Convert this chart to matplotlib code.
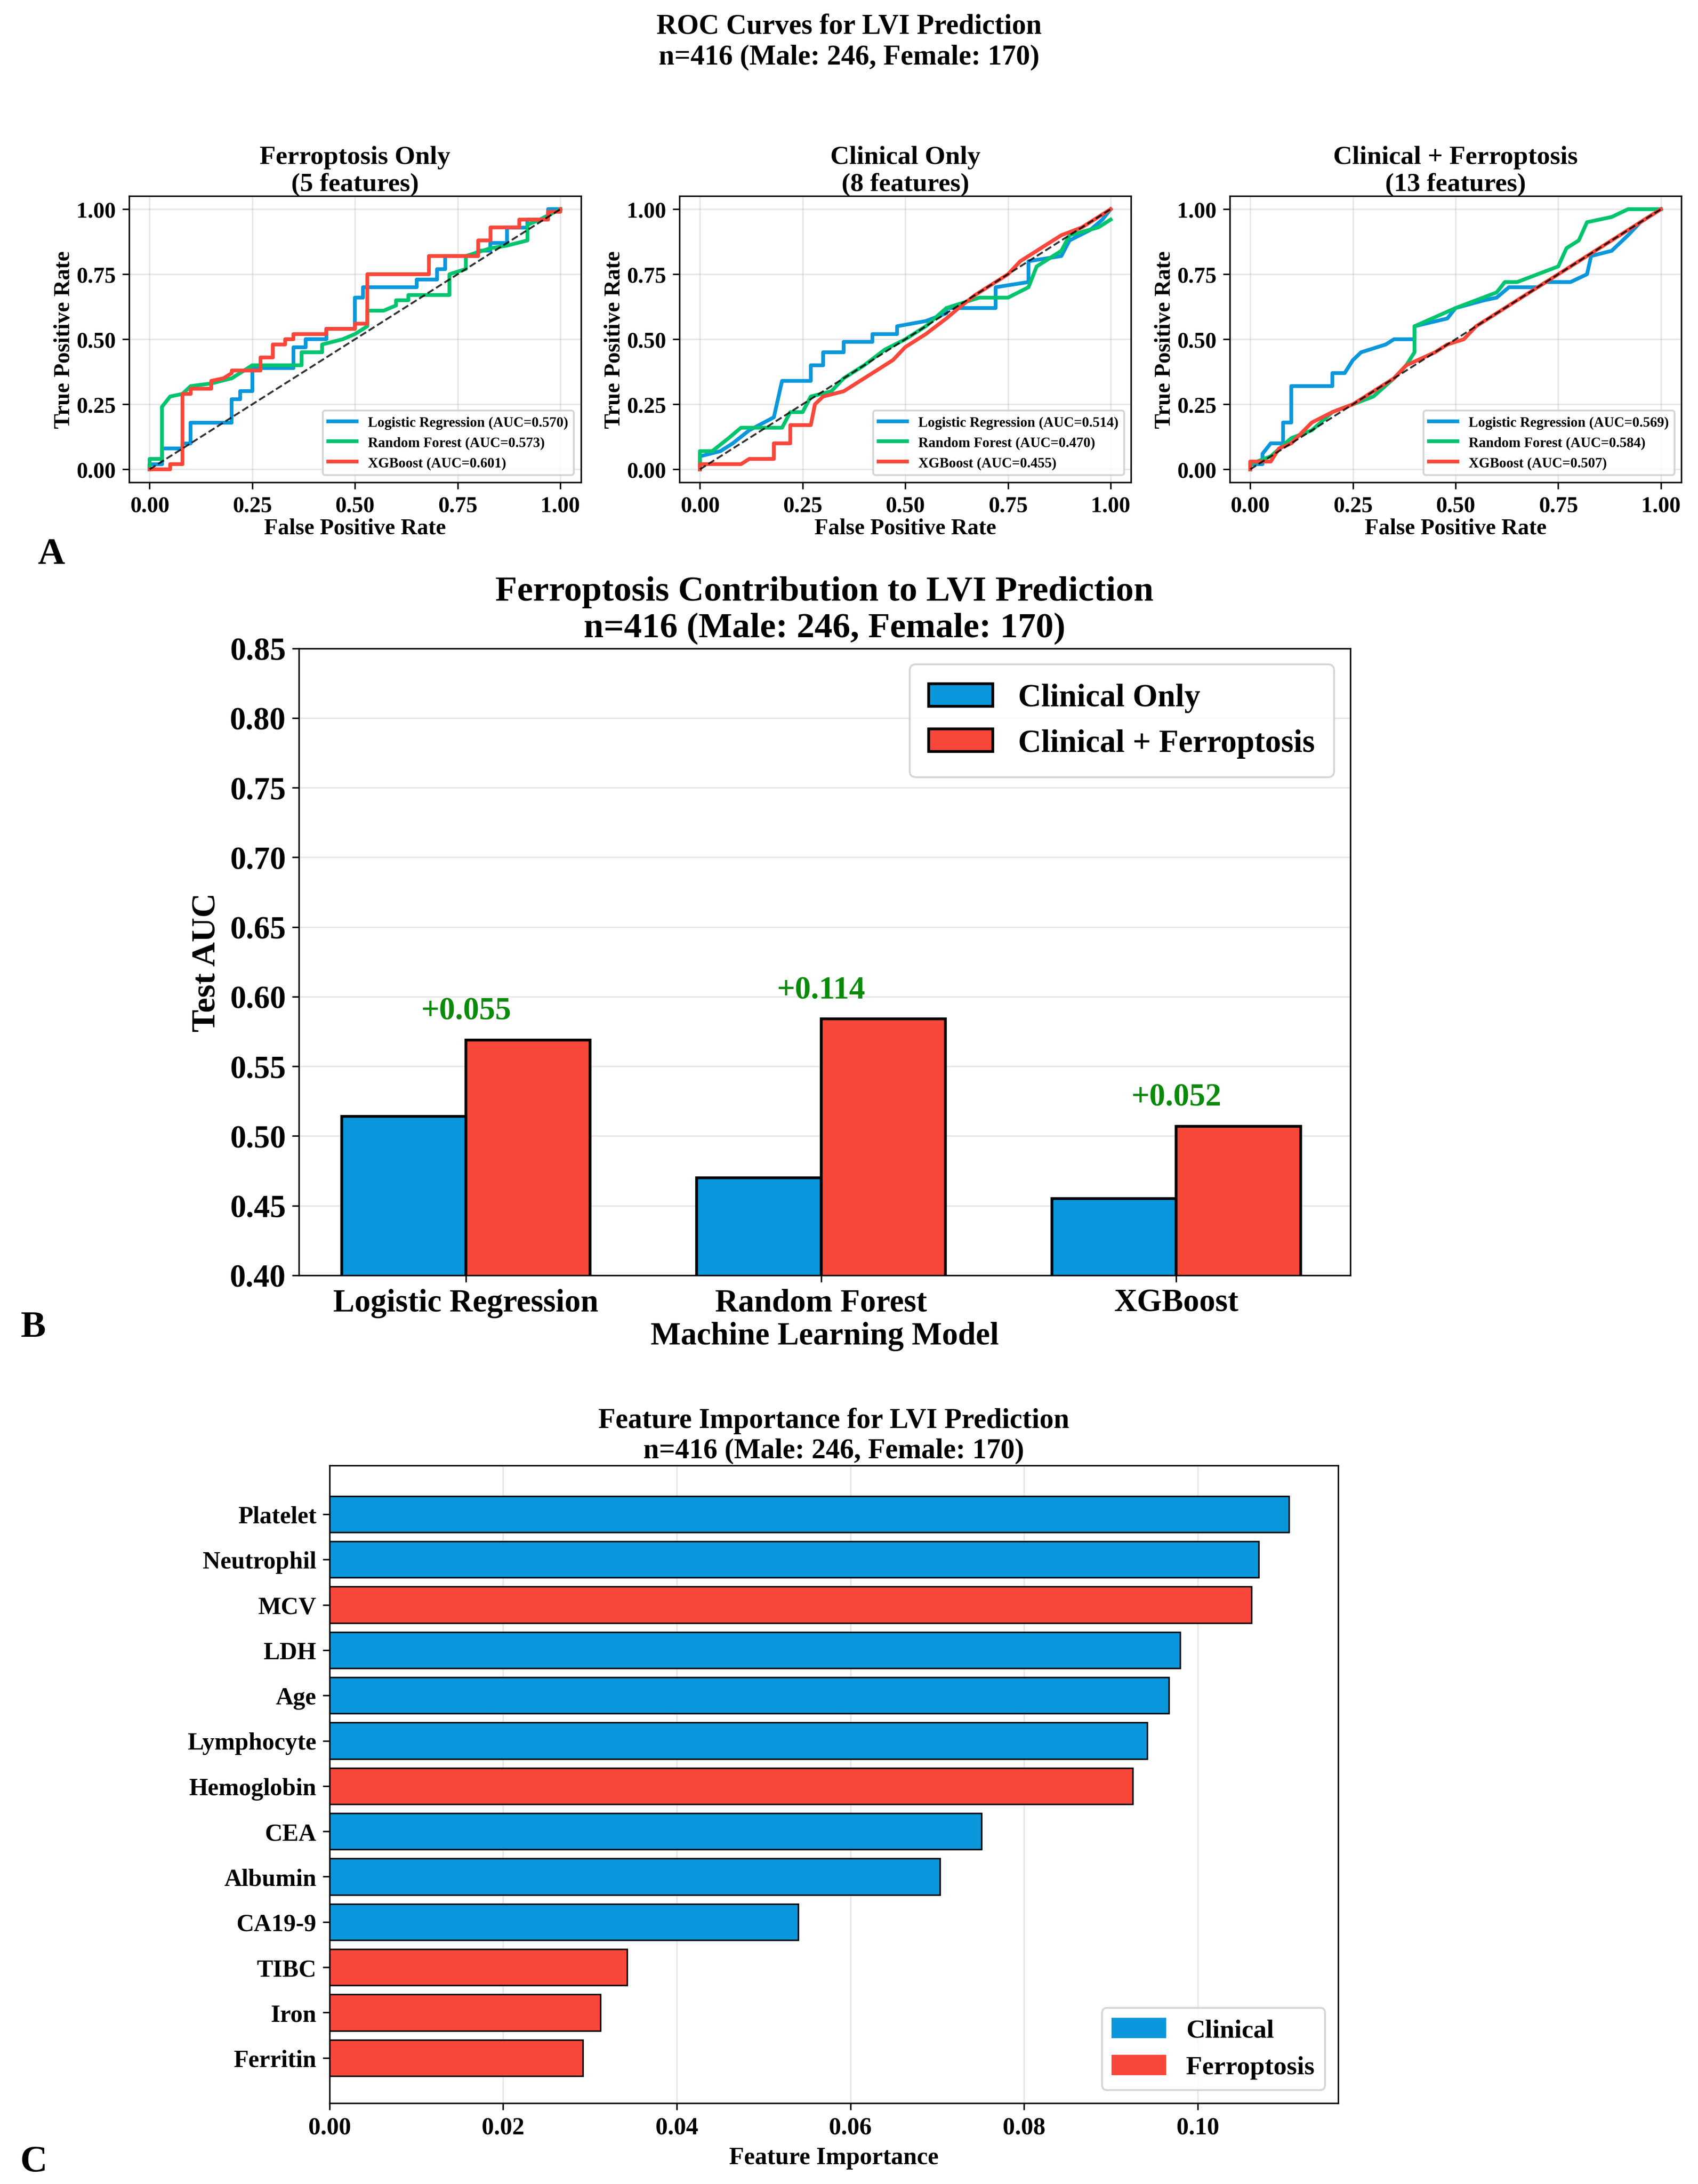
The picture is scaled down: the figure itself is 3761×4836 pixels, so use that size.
import matplotlib
matplotlib.use("Agg")
import matplotlib.pyplot as plt
import numpy as np

plt.rcParams['font.family'] = ['Liberation Serif', 'DejaVu Serif']
plt.rcParams['font.weight'] = 'bold'
plt.rcParams['axes.labelweight'] = 'bold'
plt.rcParams['axes.titleweight'] = 'bold'

BLUE = "#0A97DB"
RED = "#F9473A"
GREEN = "#00C46E"

models = ["Logistic Regression", "Random Forest", "XGBoost"]
model_colors = [BLUE, GREEN, RED]

# ROC panels: (title, auc list, curves)
roc_titles = ["Ferroptosis Only\n(5 features)", "Clinical Only\n(8 features)", "Clinical + Ferroptosis\n(13 features)"]
auc_ferro = [0.570, 0.573, 0.601]
auc_clin = [0.514, 0.470, 0.455]
auc_comb = [0.569, 0.584, 0.507]

ferro_lr = [(0,0),(0,0.02),(0.03,0.02),(0.03,0.08),(0.08,0.08),(0.08,0.10),(0.1,0.10),(0.1,0.18),(0.2,0.18),(0.2,0.27),(0.22,0.27),(0.22,0.30),(0.25,0.30),(0.25,0.39),(0.35,0.39),(0.35,0.47),(0.38,0.47),(0.38,0.50),(0.43,0.50),(0.43,0.54),(0.5,0.54),(0.5,0.66),(0.52,0.66),(0.52,0.70),(0.65,0.70),(0.65,0.73),(0.7,0.73),(0.7,0.77),(0.72,0.77),(0.72,0.82),(0.8,0.82),(0.8,0.84),(0.83,0.84),(0.83,0.87),(0.87,0.87),(0.87,0.93),(0.92,0.93),(0.92,0.96),(0.97,0.96),(0.97,1.0),(1,1)]
ferro_rf = [(0,0),(0,0.04),(0.03,0.04),(0.03,0.24),(0.05,0.28),(0.08,0.29),(0.1,0.32),(0.15,0.33),(0.2,0.35),(0.22,0.37),(0.25,0.40),(0.37,0.40),(0.37,0.45),(0.42,0.45),(0.42,0.48),(0.47,0.50),(0.5,0.52),(0.53,0.55),(0.53,0.61),(0.57,0.61),(0.6,0.63),(0.6,0.65),(0.63,0.65),(0.63,0.67),(0.73,0.67),(0.73,0.75),(0.77,0.77),(0.77,0.82),(0.83,0.85),(0.87,0.86),(0.92,0.88),(0.92,0.94),(0.95,0.96),(1,1)]
ferro_xgb = [(0,0),(0.05,0),(0.05,0.02),(0.08,0.02),(0.08,0.29),(0.1,0.29),(0.1,0.31),(0.15,0.31),(0.15,0.34),(0.18,0.35),(0.2,0.37),(0.2,0.38),(0.27,0.38),(0.27,0.43),(0.3,0.43),(0.3,0.48),(0.33,0.48),(0.33,0.50),(0.35,0.50),(0.35,0.52),(0.43,0.52),(0.43,0.54),(0.5,0.54),(0.5,0.56),(0.53,0.56),(0.53,0.75),(0.68,0.75),(0.68,0.82),(0.8,0.82),(0.8,0.88),(0.83,0.88),(0.83,0.93),(0.9,0.93),(0.9,0.96),(0.97,0.96),(0.97,0.99),(1,0.99),(1,1)]

clin_lr = [(0,0),(0,0.05),(0.05,0.07),(0.08,0.1),(0.12,0.15),(0.18,0.2),(0.2,0.34),(0.27,0.34),(0.27,0.40),(0.3,0.40),(0.3,0.45),(0.35,0.45),(0.35,0.49),(0.42,0.49),(0.42,0.52),(0.48,0.52),(0.48,0.55),(0.55,0.57),(0.6,0.6),(0.6,0.62),(0.72,0.62),(0.72,0.70),(0.8,0.72),(0.8,0.80),(0.88,0.82),(0.9,0.88),(0.95,0.92),(0.98,0.96),(1,1)]
clin_rf = [(0,0),(0,0.07),(0.03,0.07),(0.07,0.12),(0.1,0.16),(0.2,0.16),(0.22,0.22),(0.25,0.22),(0.27,0.28),(0.32,0.30),(0.35,0.35),(0.4,0.40),(0.45,0.46),(0.5,0.50),(0.55,0.55),(0.6,0.62),(0.68,0.66),(0.75,0.66),(0.8,0.70),(0.82,0.78),(0.88,0.84),(0.9,0.90),(0.97,0.93),(1,0.96)]
clin_xgb = [(0,0),(0,0.02),(0.1,0.02),(0.12,0.04),(0.18,0.04),(0.18,0.10),(0.22,0.10),(0.22,0.17),(0.27,0.17),(0.28,0.25),(0.3,0.28),(0.35,0.30),(0.4,0.35),(0.43,0.38),(0.47,0.42),(0.5,0.47),(0.55,0.52),(0.6,0.58),(0.63,0.62),(0.67,0.67),(0.7,0.70),(0.75,0.75),(0.78,0.80),(0.83,0.85),(0.88,0.90),(0.93,0.93),(0.97,0.97),(1,1)]

comb_lr = [(0,0),(0,0.02),(0.03,0.02),(0.03,0.06),(0.05,0.10),(0.08,0.10),(0.08,0.18),(0.1,0.18),(0.1,0.32),(0.2,0.32),(0.2,0.37),(0.23,0.37),(0.25,0.42),(0.27,0.45),(0.33,0.48),(0.35,0.50),(0.4,0.50),(0.4,0.55),(0.48,0.58),(0.5,0.62),(0.57,0.65),(0.6,0.66),(0.63,0.70),(0.7,0.70),(0.72,0.72),(0.78,0.72),(0.82,0.75),(0.83,0.82),(0.88,0.84),(0.92,0.90),(0.95,0.95),(1,1)]
comb_rf = [(0,0),(0,0.02),(0.05,0.05),(0.1,0.12),(0.15,0.15),(0.2,0.22),(0.25,0.25),(0.3,0.28),(0.35,0.35),(0.38,0.40),(0.4,0.45),(0.4,0.55),(0.5,0.62),(0.55,0.65),(0.6,0.68),(0.62,0.72),(0.65,0.72),(0.7,0.75),(0.75,0.78),(0.77,0.85),(0.8,0.88),(0.82,0.95),(0.88,0.97),(0.92,1.0),(1,1)]
comb_xgb = [(0,0),(0,0.03),(0.05,0.03),(0.07,0.08),(0.1,0.10),(0.15,0.18),(0.2,0.22),(0.25,0.25),(0.3,0.30),(0.35,0.35),(0.38,0.40),(0.45,0.45),(0.48,0.48),(0.52,0.50),(0.55,0.55),(0.6,0.60),(0.65,0.65),(0.7,0.70),(0.75,0.75),(0.8,0.80),(0.85,0.85),(0.92,0.92),(0.95,0.95),(1,1)]

roc_data = [
    ([ferro_lr, ferro_rf, ferro_xgb], auc_ferro),
    ([clin_lr, clin_rf, clin_xgb], auc_clin),
    ([comb_lr, comb_rf, comb_xgb], auc_comb),
]

# bar chart data
auc_clinical_only = [0.514, 0.470, 0.455]
auc_clinical_ferro = [0.569, 0.584, 0.507]

# feature importance
features = ["Platelet", "Neutrophil", "MCV", "LDH", "Age", "Lymphocyte", "Hemoglobin",
            "CEA", "Albumin", "CA19-9", "TIBC", "Iron", "Ferritin"]
importance = [0.1105, 0.1070, 0.1062, 0.0980, 0.0967, 0.0942, 0.0925,
              0.0751, 0.0703, 0.0540, 0.0343, 0.0312, 0.0292]
feat_group = ["Clinical", "Clinical", "Ferroptosis", "Clinical", "Clinical", "Clinical", "Ferroptosis",
              "Clinical", "Clinical", "Clinical", "Ferroptosis", "Ferroptosis", "Ferroptosis"]

fig = plt.figure(figsize=(12.54, 16.123), dpi=300)
fig.text(0.5, 0.9935, "ROC Curves for LVI Prediction\nn=416 (Male: 246, Female: 170)",
         ha="center", va="top", fontsize=15, fontweight="bold")

lefts = [0.076, 0.400, 0.724]
for i, (curves, aucs) in enumerate(roc_data):
    ax = fig.add_axes([lefts[i], 0.779, 0.266, 0.131])
    for pts, auc, name, col in zip(curves, aucs, models, model_colors):
        x, y = zip(*pts)
        ax.plot(x, y, color=col, lw=2, label=f"{name} (AUC={auc:.3f})")
    ax.plot([0, 1], [0, 1], "k--", lw=1, alpha=0.8)
    ax.set_xlim(-0.05, 1.05)
    ax.set_ylim(-0.05, 1.05)
    ax.set_xticks([0, 0.25, 0.5, 0.75, 1.0])
    ax.set_yticks([0, 0.25, 0.5, 0.75, 1.0])
    ax.tick_params(labelsize=12)
    ax.set_xlabel("False Positive Rate", fontsize=12, labelpad=1)
    ax.set_ylabel("True Positive Rate", fontsize=12, labelpad=1)
    ax.set_title(roc_titles[i], fontsize=14, pad=3)
    ax.grid(alpha=0.3)
    ax.legend(loc="lower right", fontsize=7.5, prop={"weight": "bold", "size": 7.5})

fig.text(0.022, 0.742, "A", fontsize=20, fontweight="bold")

# Panel B
axb = fig.add_axes([0.176, 0.416, 0.619, 0.287])
xpos = np.arange(len(models))
w = 0.35
axb.bar(xpos - w / 2, auc_clinical_only, w, color=BLUE, edgecolor="black", lw=1.5, label="Clinical Only")
axb.bar(xpos + w / 2, auc_clinical_ferro, w, color=RED, edgecolor="black", lw=1.5, label="Clinical + Ferroptosis")
for i in range(len(models)):
    diff = auc_clinical_ferro[i] - auc_clinical_only[i]
    top = max(auc_clinical_ferro[i], auc_clinical_only[i])
    axb.text(xpos[i], top + 0.01, f"+{diff:.3f}", ha="center", va="bottom",
             color="#0A8A0A", fontsize=17, fontweight="bold")
axb.set_ylim(0.40, 0.85)
axb.set_xlim(-0.47, 2.49)
axb.set_xticks(xpos)
axb.set_xticklabels(models)
axb.tick_params(labelsize=17)
axb.set_ylabel("Test AUC", fontsize=18, labelpad=4)
axb.set_xlabel("Machine Learning Model", fontsize=17, labelpad=2)
axb.set_title("Ferroptosis Contribution to LVI Prediction\nn=416 (Male: 246, Female: 170)", fontsize=19, pad=6)
axb.grid(axis="y", alpha=0.3)
axb.set_axisbelow(True)
axb.legend(loc="upper right", fontsize=17, prop={"weight": "bold", "size": 17}, borderpad=0.6)
fig.text(0.012, 0.388, "B", fontsize=20, fontweight="bold")

# Panel C
axc = fig.add_axes([0.194, 0.037, 0.594, 0.292])
ypos = np.arange(len(features))
cols = [BLUE if g == "Clinical" else RED for g in feat_group]
axc.barh(ypos, importance, color=cols, edgecolor="black", lw=0.8, height=0.8)
axc.set_yticks(ypos)
axc.set_yticklabels(features)
axc.set_ylim(len(features) - 1 + 1.0, -1.08)
axc.set_xlim(0, 0.1162)
axc.set_xticks([0, 0.02, 0.04, 0.06, 0.08, 0.10])
axc.set_xticklabels(["0.00", "0.02", "0.04", "0.06", "0.08", "0.10"])
axc.tick_params(labelsize=13)
axc.set_xlabel("Feature Importance", fontsize=13, labelpad=4)
axc.set_title("Feature Importance for LVI Prediction\nn=416 (Male: 246, Female: 170)", fontsize=15, pad=4)
axc.grid(axis="x", alpha=0.3)
axc.set_axisbelow(True)
from matplotlib.patches import Patch
axc.legend(handles=[Patch(color=BLUE, label="Clinical"), Patch(color=RED, label="Ferroptosis")],
           loc="lower right", prop={"weight": "bold", "size": 14})
fig.text(0.012, 0.006, "C", fontsize=20, fontweight="bold")

fig.savefig("out.png", dpi=300)
